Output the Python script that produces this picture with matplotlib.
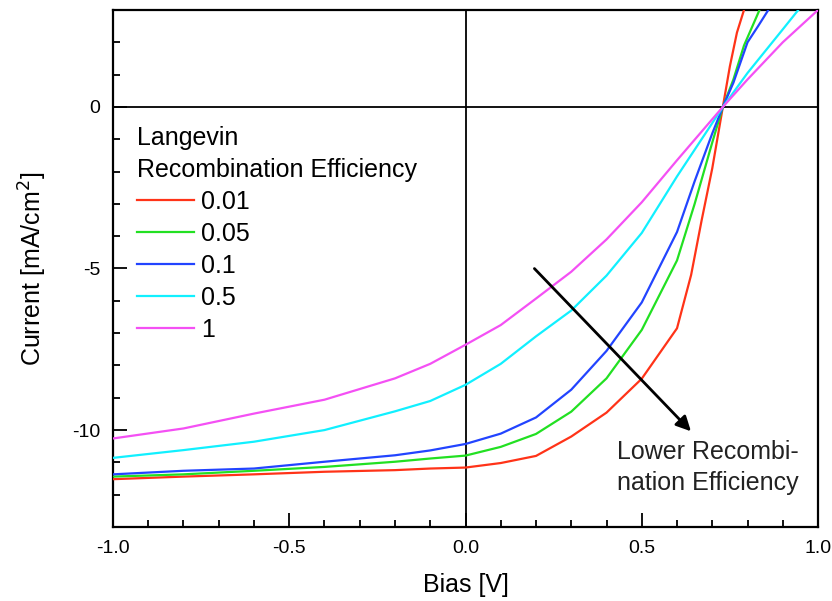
import matplotlib
matplotlib.use('Agg')
import matplotlib.pyplot as plt
from matplotlib.ticker import MultipleLocator

plt.rcParams['font.family'] = ['Liberation Sans', 'DejaVu Sans']

# J-V curves, one per Langevin recombination efficiency
labels = ['0.01', '0.05', '0.1', '0.5', '1']
colors = ['#ff3318', '#22e022', '#2244ff', '#11f0ff', '#f450f4']

bias_001 = [-1.0, -0.8, -0.6, -0.4, -0.2, -0.1, 0.0, 0.1, 0.2, 0.3, 0.4, 0.5, 0.6,
            0.64, 0.67, 0.70, 0.73, 0.75, 0.77, 0.79]
cur_001 = [-11.52, -11.44, -11.37, -11.29, -11.24, -11.19, -11.16, -11.02, -10.80, -10.20,
           -9.46, -8.41, -6.85, -5.2, -3.5, -1.9, 0.0, 1.26, 2.3, 3.0]

bias_005 = [-1.0, -0.8, -0.6, -0.4, -0.2, -0.1, 0.0, 0.1, 0.2, 0.3, 0.4, 0.5, 0.6,
            0.65, 0.70, 0.73, 0.76, 0.79, 0.81, 0.834]
cur_005 = [-11.44, -11.37, -11.26, -11.14, -10.98, -10.88, -10.79, -10.52, -10.12, -9.43,
           -8.4, -6.9, -4.75, -3.0, -1.1, 0.0, 0.85, 1.9, 2.4, 3.0]

bias_01 = [-1.0, -0.8, -0.6, -0.4, -0.2, -0.1, 0.0, 0.1, 0.2, 0.3, 0.4, 0.5, 0.6,
           0.65, 0.70, 0.73, 0.76, 0.80, 0.83, 0.859]
cur_01 = [-11.37, -11.26, -11.19, -10.98, -10.78, -10.63, -10.43, -10.11, -9.61, -8.75,
          -7.55, -6.05, -3.87, -2.3, -0.82, 0.0, 0.75, 2.0, 2.5, 3.0]

bias_05 = [-1.0, -0.8, -0.6, -0.4, -0.2, -0.1, 0.0, 0.1, 0.2, 0.3, 0.4, 0.5, 0.6,
           0.70, 0.73, 0.80, 0.90, 0.944]
cur_05 = [-10.86, -10.62, -10.36, -10.0, -9.42, -9.1, -8.6, -7.95, -7.1, -6.3,
          -5.22, -3.9, -2.15, -0.5, 0.0, 1.05, 2.4, 3.0]

bias_1 = [-1.0, -0.8, -0.6, -0.4, -0.2, -0.1, 0.0, 0.1, 0.2, 0.3, 0.4, 0.5, 0.6,
          0.70, 0.73, 0.80, 0.90, 1.0]
cur_1 = [-10.26, -9.95, -9.49, -9.06, -8.4, -7.95, -7.36, -6.75, -5.93, -5.1,
         -4.1, -2.95, -1.65, -0.38, 0.0, 0.85, 2.0, 3.0]

biases = [bias_001, bias_005, bias_01, bias_05, bias_1]
currents = [cur_001, cur_005, cur_01, cur_05, cur_1]

fig = plt.figure(figsize=(8.32, 6.01), dpi=100)
ax = fig.add_axes([0.1358, 0.1231, 0.8474, 0.8603])

# zero lines
ax.axhline(0, color='black', lw=1.3, zorder=1)
ax.axvline(0, color='black', lw=1.3, zorder=1)

for b, c, lab, col in zip(biases, currents, labels, colors):
    ax.plot(b, c, color=col, lw=1.6, label=lab, zorder=3)

ax.set_xlim(-1.0, 1.0)
ax.set_ylim(-13, 3)
ax.xaxis.set_minor_locator(MultipleLocator(0.1))
ax.yaxis.set_minor_locator(MultipleLocator(1))
ax.set_xticks([-1.0, -0.5, 0.0, 0.5, 1.0])
ax.set_xticklabels(['-1.0', '-0.5', '0.0', '0.5', '1.0'])
ax.set_yticks([0, -5, -10])
ax.set_yticklabels(['0', '-5', '-10'])
ax.tick_params(which='both', direction='in', top=False, right=False, width=1.3)
ax.tick_params(which='major', length=10, pad=9, labelsize=14)
ax.tick_params(which='minor', length=5)
for s in ax.spines.values():
    s.set_linewidth(1.6)

ax.set_xlabel('Bias [V]', fontsize=18, labelpad=12)
ax.set_ylabel('Current [mA/cm$^2$]', fontsize=18, labelpad=17)

leg = ax.legend(title='Langevin\nRecombination Efficiency', loc='upper left',
                bbox_to_anchor=(0.034, 0.775), frameon=False, fontsize=18,
                title_fontsize=18, alignment='left', handlelength=2.3,
                handletextpad=0.28, labelspacing=0.32, borderpad=0,
                borderaxespad=0)
leg.get_title().set_linespacing(1.4)

ax.annotate('', xy=(0.645, -10.1), xytext=(0.19, -4.94),
            arrowprops=dict(arrowstyle='-|>', color='black', lw=2,
                            mutation_scale=22))
ax.text(0.43, -10.3, 'Lower Recombi-\nnation Efficiency', fontsize=18,
        va='top', ha='left', linespacing=1.4, color='#222222')

fig.savefig('out.png', dpi=100)
